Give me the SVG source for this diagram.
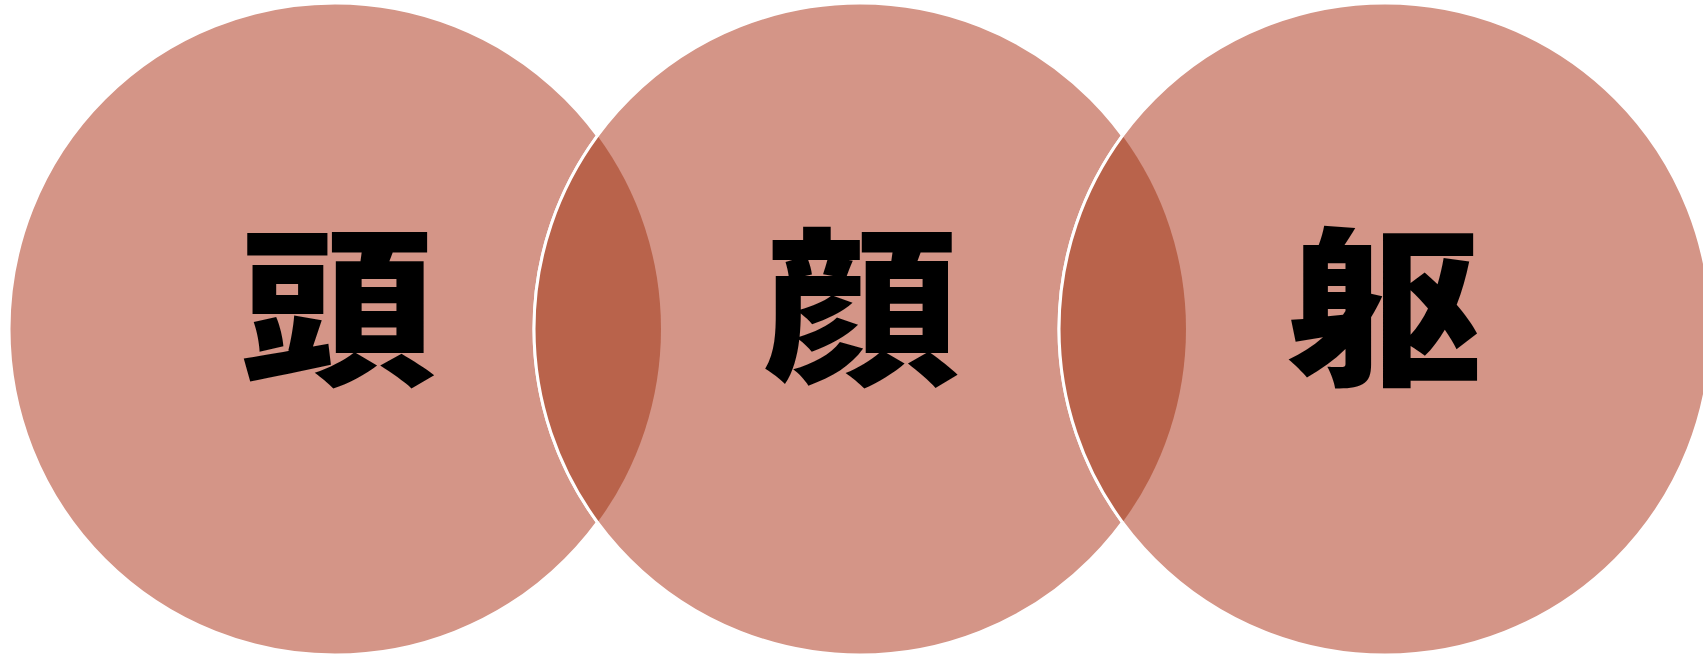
<svg xmlns="http://www.w3.org/2000/svg" width="1703" height="659" viewBox="0 0 1703 659">
<style>
.c{fill:#D49587;stroke:#FFFFFF;stroke-width:3}
.lens{fill:#B9634B;stroke:none}
.edge{fill:none;stroke:#FFFFFF;stroke-width:3}
.t{font-family:"Noto Sans CJK JP","Noto Sans CJK SC",sans-serif;font-weight:900;font-size:170px;fill:#000000;text-anchor:middle}
</style>
<rect width="1703" height="659" fill="#FFFFFF"/>
<g id="node-1"><circle class="c" cx="335" cy="329" r="326"/></g>
<g id="node-2"><circle class="c" cx="860" cy="329" r="326"/></g>
<g id="node-3"><circle class="c" cx="1385" cy="329" r="326"/></g>
<g id="overlaps">
<path class="lens" d="M597.5 135.7 A326 326 0 0 1 597.5 522.3 A326 326 0 0 1 597.5 135.7 Z"/>
<path class="edge" d="M597.5 522.3 A326 326 0 0 1 597.5 135.7"/>
<path class="lens" d="M1122.5 135.7 A326 326 0 0 1 1122.5 522.3 A326 326 0 0 1 1122.5 135.7 Z"/>
<path class="edge" d="M1122.5 522.3 A326 326 0 0 1 1122.5 135.7"/>
</g>
<g id="labels">
<text class="t" transform="translate(337 372) scale(1.15 1)">頭</text>
<text class="t" transform="translate(861 372) scale(1.15 1)">顔</text>
<text class="t" transform="translate(1384 372) scale(1.15 1)">躯</text>
</g>
</svg>
